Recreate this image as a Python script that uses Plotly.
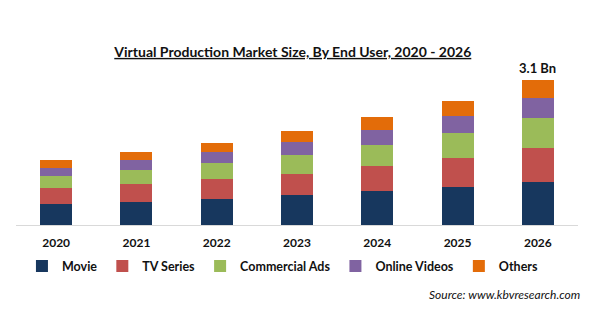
import plotly.graph_objects as go

years = ["2020", "2021", "2022", "2023", "2024", "2025", "2026"]
movie = [0.443, 0.492, 0.562, 0.635, 0.727, 0.812, 0.926]
tv_series = [0.355, 0.391, 0.421, 0.462, 0.535, 0.620, 0.720]
commercial_ads = [0.250, 0.293, 0.349, 0.406, 0.455, 0.535, 0.641]
online_videos = [0.177, 0.214, 0.229, 0.265, 0.308, 0.370, 0.428]
others = [0.165, 0.171, 0.199, 0.242, 0.284, 0.321, 0.385]

series = [
    ("Movie", movie, "#17375E"),
    ("TV Series", tv_series, "#C0504D"),
    ("Commercial Ads", commercial_ads, "#9BBB59"),
    ("Online Videos", online_videos, "#8063A1"),
    ("Others", others, "#E36C09"),
]

FONT = "Lato"

fig = go.Figure()
for name, vals, color in series:
    fig.add_trace(go.Bar(x=years, y=vals, name=name, marker=dict(color=color, line=dict(width=0))))

total_last = sum(s[1][-1] for s in series)
fig.add_annotation(x=len(years) - 1, y=total_last, text="<b>3.1 Bn</b>", showarrow=False,
                   yanchor="bottom", yshift=2, font=dict(family=FONT, size=13, color="#111"))

fig.update_layout(
    width=600, height=325,
    barmode="stack", bargap=0.6,
    margin=dict(l=16, r=22, t=60, b=100),
    paper_bgcolor="white", plot_bgcolor="white",
    title=dict(text="<b><u>Virtual Production Market Size, By End User, 2020 - 2026</u></b>",
               x=0.488, xanchor="center", y=0.84, yanchor="middle",
               font=dict(family=FONT, size=14, color="#111")),
    xaxis=dict(type="category", range=[-0.5, len(years) - 0.5], showgrid=False, showline=True,
               linecolor="#D9D9D9", linewidth=1, ticklabelstandoff=7,
               tickfont=dict(family=FONT, size=12, color="#111", weight="bold"), ticks=""),
    yaxis=dict(visible=False, range=[0, 3.528]),
    legend=dict(orientation="h", x=0.475, xanchor="center", y=-0.16, yanchor="top",
                font=dict(family=FONT, size=12.5, color="#111", weight="bold"), traceorder="normal"),
    showlegend=True,
)
fig.add_annotation(xref="paper", yref="paper", x=1.0, y=-0.42, xanchor="right", yanchor="middle",
                   xshift=4, text="<i>Source: www.kbvresearch.com</i>", showarrow=False,
                   font=dict(family=FONT, size=12, color="#111"))

fig.write_html("out.html")
